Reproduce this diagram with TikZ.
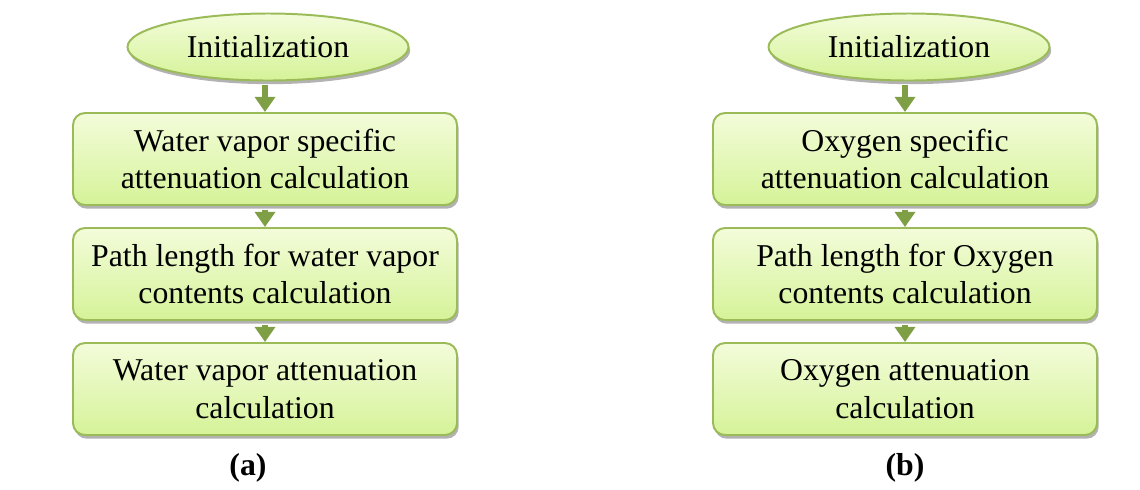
\documentclass[tikz,border=0pt]{standalone}
\usepackage{fontspec}
\setmainfont{Liberation Serif}
\newfontfamily\flowfont{Liberation Serif}
\usetikzlibrary{shapes.geometric, shadows, arrows.meta}

\definecolor{boxtop}{HTML}{F3FCDA}
\definecolor{boxbot}{HTML}{D5F398}
\definecolor{boxline}{HTML}{9BBB59}
\definecolor{flowgreen}{HTML}{7F9F45}

\begin{document}
\begin{tikzpicture}[
    every node/.style={font=\flowfont\fontsize{22.6}{26.8}\selectfont},
    stepshade/.style={draw=boxline, line width=1.4pt, top color=boxtop, bottom color=boxbot,
      drop shadow={shadow xshift=1.2pt, shadow yshift=-2.6pt, fill=black!60}},
    initnode/.style={stepshade, ellipse, minimum width=7.025cm, minimum height=1.675cm, inner sep=0pt},
    calcbox/.style={stepshade, rectangle, rounded corners=0.3cm, minimum width=9.6cm, minimum height=2.3cm, align=center, inner sep=0pt},
    flow/.style={draw=flowgreen, line width=4.3pt, -{Triangle[width=0.5cm, length=0.38cm]}, shorten <=2.5pt},
    caption/.style={font=\flowfont\fontsize{22.6}{26.8}\selectfont\bfseries}
  ]
    \useasboundingbox (0,0) rectangle (28.5,-12.225);

    % Water vapor chain
    \node[initnode] (winit) at (6.7,-1.175) {Initialization};
    \node[calcbox] (wspec) at (6.625,-3.975) {Water vapor specific\\attenuation calculation};
    \node[calcbox] (wpath) at (6.625,-6.85) {Path length for water vapor\\contents calculation};
    \node[calcbox] (watt) at (6.625,-9.725) {Water vapor attenuation\\calculation};

    \draw[flow] (winit.south -| wspec.north) -- (wspec.north);
    \draw[flow] (wspec.south) -- (wpath.north);
    \draw[flow] (wpath.south) -- (watt.north);

    % Oxygen chain
    \node[initnode] (oinit) at (22.725,-1.175) {Initialization};
    \node[calcbox] (ospec) at (22.625,-3.975) {Oxygen specific\\attenuation calculation};
    \node[calcbox] (opath) at (22.625,-6.85) {Path length for Oxygen\\contents calculation};
    \node[calcbox] (oatt) at (22.625,-9.725) {Oxygen attenuation\\calculation};

    \draw[flow] (oinit.south -| ospec.north) -- (ospec.north);
    \draw[flow] (ospec.south) -- (opath.north);
    \draw[flow] (opath.south) -- (oatt.north);

    % Captions
    \node[caption] (capa) at (6.2,-11.7) {(a)};
    \node[caption] (capb) at (22.625,-11.7) {(b)};
\end{tikzpicture}
\end{document}
